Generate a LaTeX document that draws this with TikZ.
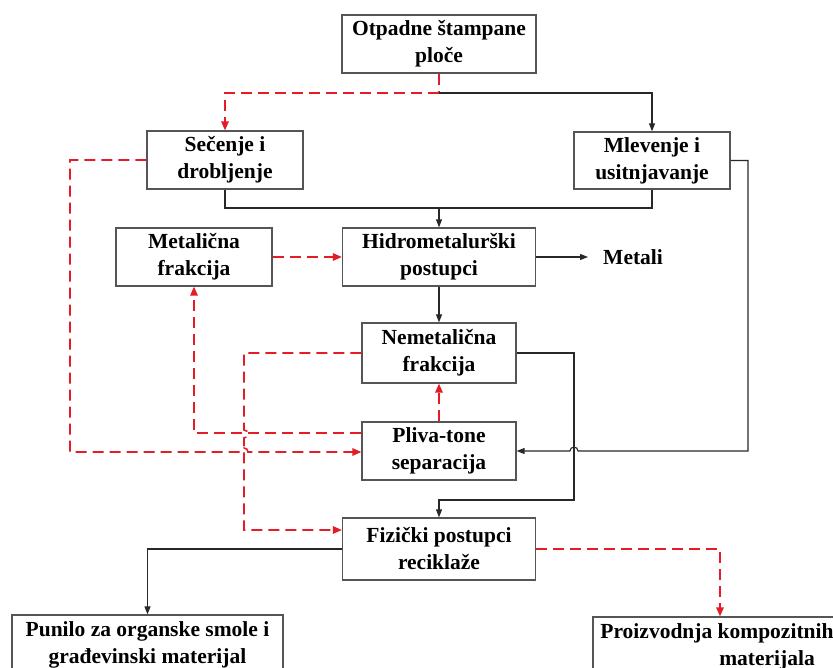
\documentclass[tikz,border=0pt]{standalone}
\usepackage{fontspec}
\setmainfont{Liberation Serif}
\usepackage{tikz}
\usetikzlibrary{arrows.meta}
\definecolor{flowred}{RGB}{228,28,38}
\definecolor{boxgray}{RGB}{85,85,85}
\definecolor{linegray}{RGB}{40,40,40}

\begin{document}
\begin{tikzpicture}[x=1pt, y=-1pt,
    box/.style={draw=boxgray, line width=1.3pt, fill=white, align=center,
        font=\fontsize{21.5}{27}\selectfont\bfseries, inner sep=0pt},
    blackline/.style={draw=linegray, line width=1.1pt},
    blackarrow/.style={blackline, -{Triangle[length=8pt,width=6pt]}},
    redline/.style={draw=flowred, line width=1.6pt, dash pattern=on 11pt off 6pt},
    redarrow/.style={redline, -{Triangle[length=9pt,width=7.5pt]}, flowred}]

    \useasboundingbox (0,0) rectangle (833,668);
    \clip (0,0) rectangle (833,668);

    % Boxes
    \node[box, minimum width=194pt, minimum height=58pt] (otp) at (439,44) {Otpadne štampane\\ploče};
    \node[box, minimum width=156pt, minimum height=58pt] (sec) at (225,160) {Sečenje i\\drobljenje};
    \node[box, minimum width=156pt, minimum height=57pt] (mle) at (652,160.5) {Mlevenje i\\usitnjavanje};
    \node[box, minimum width=156pt, minimum height=58pt] (met) at (194,257) {Metalična\\frakcija};
    \node[box, minimum width=193pt, minimum height=58pt] (hid) at (439,257) {Hidrometalurški\\postupci};
    \node[box, minimum width=154pt, minimum height=60pt] (nem) at (439,353) {Nemetalična\\frakcija};
    \node[box, minimum width=154pt, minimum height=58pt] (pli) at (439,451) {Pliva-tone\\separacija};
    \node[box, minimum width=193pt, minimum height=62pt] (fiz) at (439,549) {Fizički postupci\\reciklaže};
    \node[box, minimum width=271pt, minimum height=60pt] (pun) at (147.5,645) {Punilo za organske smole i\\građevinski materijal};
    \node[box, minimum width=348pt, minimum height=60pt] (pro) at (767,647) {Proizvodnja kompozitnih\hspace*{100pt}\\materijala};
    \node[font=\fontsize{21.5}{27}\selectfont\bfseries, anchor=west, inner sep=0pt] (metali) at (603,257) {Metali};

    % Split points
    \coordinate (split) at (439,93);
    \coordinate (join) at (439,208);

    % Top branches
    \draw[redline] (otp.south) -- (split);
    \draw[redarrow] (split) -| (sec.north);
    \draw[blackarrow] (split) -| (mle.north);
    \draw[blackline] (sec.south) |- (join);
    \draw[blackline] (mle.south) |- (join);
    \draw[blackarrow] (join) -- (hid.north);

    % Middle
    \draw[redarrow] (met.east) -- (hid.west);
    \draw[blackarrow] (hid.east) -- ([xshift=-15pt]metali.west);
    \draw[blackarrow] (hid.south) -- (nem.north);
    \draw[redarrow] (pli.north) -- (nem.south);
    \draw[redarrow] ([yshift=18pt]pli.west) -| (met.south);

    % Mlevenje to Pliva-tone, hop over the vertical line
    \draw[blackline, -{Triangle[length=8pt,width=6pt]}] (mle.east) -| (748,451) -- (578,451)
        arc[start angle=0, end angle=180, radius=4pt] -- (pli.east);
    % Nemetalicna to Fizicki
    \draw[blackarrow] (nem.east) -| (574,500) -| (fiz.north);

    % Secenje to Pliva-tone, hop at the red vertical
    \draw[redarrow] (sec.west) -| (70,452) -- (240,452)
        arc[start angle=180, end angle=0, radius=4pt] -- ([yshift=-1pt]pli.west);
    % Nemetalicna to Fizicki (red)
    \draw[redarrow] (nem.west) -| (244,430)
        arc[start angle=90, end angle=-90, radius=4pt] |- ([yshift=19pt]fiz.west);

    % Bottom branches
    \draw[blackarrow] (fiz.west) -| (pun.north);
    \draw[redarrow] (fiz.east) -| ([xshift=-47pt]pro.north);

\end{tikzpicture}
\end{document}
